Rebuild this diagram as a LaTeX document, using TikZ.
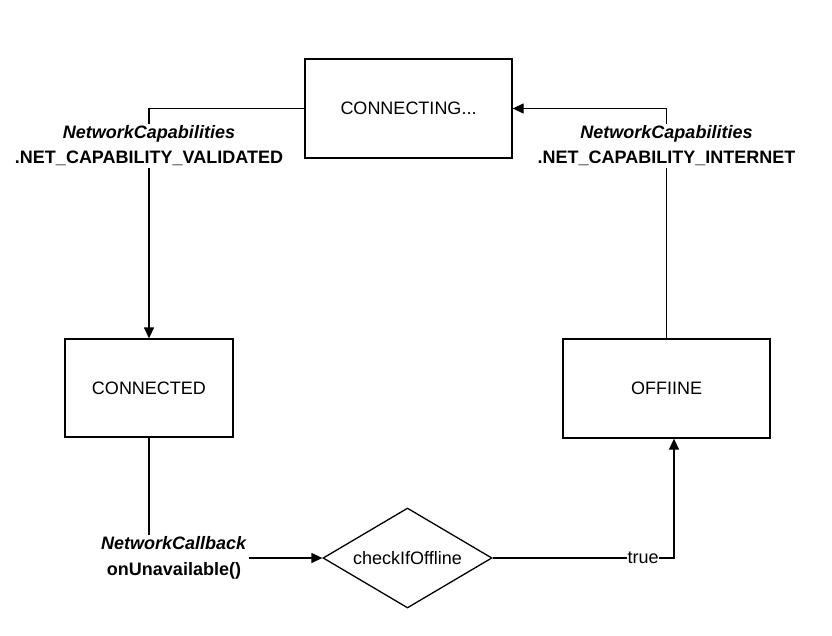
\documentclass[tikz,border=0pt]{standalone}
\usepackage{fontspec}
\setmainfont{Liberation Sans}
\usepackage{tikz}
\usetikzlibrary{positioning,arrows.meta,shapes.geometric}

\begin{document}
\begin{tikzpicture}[x=1pt, y=-1pt, >={Triangle[length=11pt,width=10pt]},
    every node/.style={font=\fontsize{18}{25.5}\selectfont, align=center},
    state/.style={draw, line width=1.3pt, minimum width=207pt, minimum height=99pt, inner sep=0pt},
    edgelabel/.style={fill=white, inner sep=1.5pt},
    conn/.style={line width=1.3pt}]
  \useasboundingbox (0,0) rectangle (832,636);

  \node[state] (connecting) at (408.5,108.5) {CONNECTING...};
  \node[state, minimum width=168pt, minimum height=98pt] (connected) at (149,388) {CONNECTED};
  \node[state] (offline) at (666.5,388.5) {OFFIINE};
  \node[draw, line width=1.3pt, diamond, aspect=1.69, inner sep=0pt,
        minimum width=169pt, minimum height=100pt] (check) at (407.5,558) {checkIfOffline};

  \draw[conn, ->] (connecting.west) -| node[edgelabel, pos=0.581]
        {\textbf{\textit{NetworkCapabilities}}\\\textbf{.NET\_CAPABILITY\_VALIDATED}} (connected.north);
  \draw[conn, ->] (offline.north) |- node[edgelabel, pos=0.419]
        {\textbf{\textit{NetworkCapabilities}}\\\textbf{.NET\_CAPABILITY\_INTERNET}} (connecting.east);
  \draw[conn, ->] (connected.south) |- node[edgelabel, pos=0.5, xshift=25pt, inner sep=2pt]
        {\textbf{\textit{NetworkCallback}}\\\textbf{onUnavailable()}} (check.west);
  \draw[conn, ->] (check.east) -| node[edgelabel, pos=0.415, inner sep=0.5pt] {true}
        ([xshift=7.5pt]offline.south);
\end{tikzpicture}
\end{document}
